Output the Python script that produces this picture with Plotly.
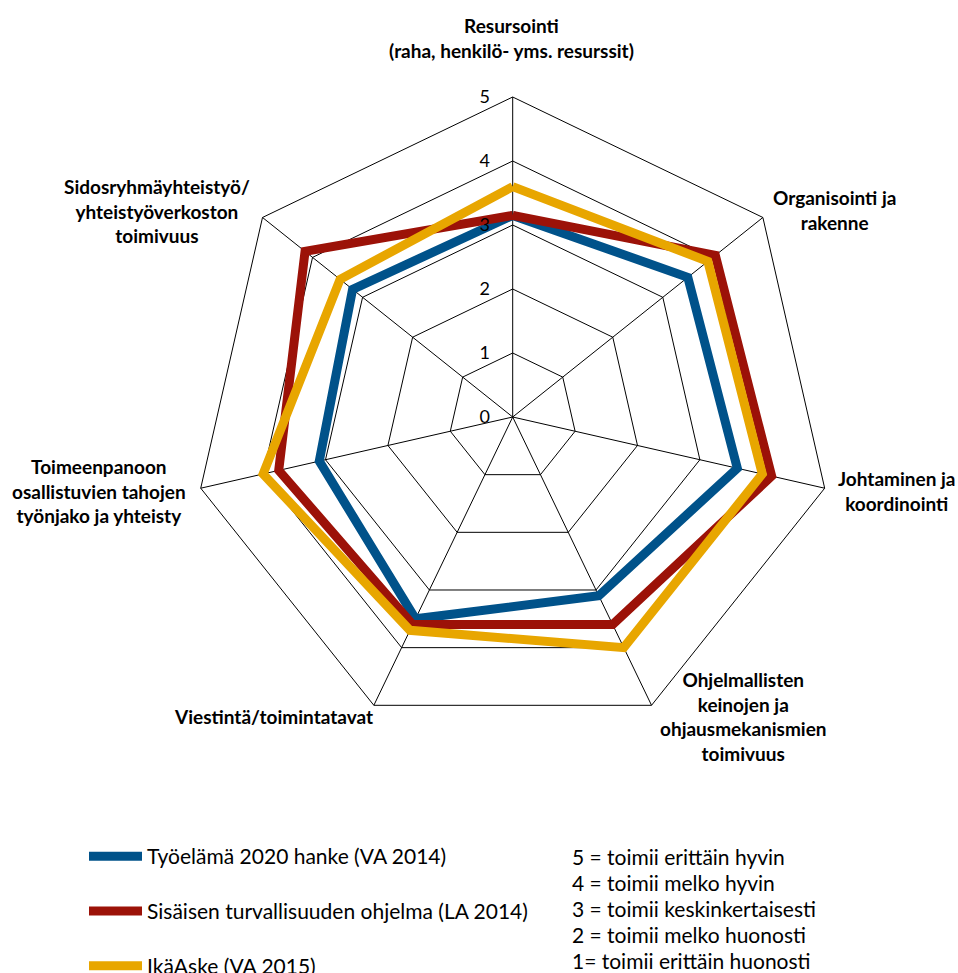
import plotly.graph_objects as go

categories = [
    "Resursointi",
    "Organisointi ja rakenne",
    "Johtaminen ja koordinointi",
    "Ohjelmallisten keinojen ja ohjausmekanismien toimivuus",
    "Viestintä/toimintatavat",
    "Toimeenpanoon osallistuvien tahojen työnjako ja yhteisty",
    "Sidosryhmäyhteistyö/yhteistyöverkoston toimivuus",
]
category_labels = [
    "Resursointi<br>(raha, henkilö- yms. resurssit)",
    "Organisointi ja<br>rakenne",
    "Johtaminen ja<br>koordinointi",
    "Ohjelmallisten<br>keinojen ja<br>ohjausmekanismien<br>toimivuus",
    "Viestintä/toimintatavat",
    "Toimeenpanoon<br>osallistuvien tahojen<br>työnjako ja yhteisty",
    "Sidosryhmäyhteistyö/<br>yhteistyöverkoston<br>toimivuus",
]
series_names = [
    "Työelämä 2020 hanke (VA 2014)",
    "Sisäisen turvallisuuden ohjelma (LA 2014)",
    "IkäAske (VA 2015)",
]
tyoelama = [3.15, 3.5, 3.6, 3.1, 3.5, 3.1, 3.2]
sisainen = [3.15, 4.05, 4.15, 3.6, 3.6, 3.75, 4.15]
ikaaske = [3.6, 3.9, 4.0, 4.0, 3.7, 4.0, 3.45]
scale_text = [
    "5 = toimii erittäin hyvin",
    "4 = toimii melko hyvin",
    "3 = toimii keskinkertaisesti",
    "2 = toimii melko huonosti",
    "1= toimii erittäin huonosti",
]
radial_ticks = [0, 1, 2, 3, 4, 5]

colors = ["#00528A", "#9C1208", "#E8A600"]
series = [tyoelama, sisainen, ikaaske]

fig = go.Figure()
for i, (name, vals) in enumerate(zip(series_names, series)):
    fig.add_trace(go.Scatterpolar(
        r=vals + [vals[0]],
        theta=categories + [categories[0]],
        mode="lines",
        name=name,
        legendgroup=str(i),
        line=dict(color=colors[i], width=9),
        hoverinfo="skip",
    ))

W, H = 958, 973
cx, cy, R = 512.7, 417, 320

fig.update_layout(
    width=W, height=H,
    margin=dict(l=0, r=0, t=0, b=0, autoexpand=False),
    paper_bgcolor="white",
    plot_bgcolor="white",
    font=dict(family="Lato, sans-serif", color="black"),
    polar=dict(
        domain=dict(x=[(cx - R) / W, (cx + R) / W], y=[1 - (cy + R) / H, 1 - (cy - R) / H]),
        bgcolor="white",
        gridshape="linear",
        angularaxis=dict(
            rotation=90, direction="clockwise",
            showticklabels=False, ticks="",
            showgrid=True, gridcolor="black", gridwidth=1,
            showline=True, linecolor="black", linewidth=1,
            layer="below traces",
        ),
        radialaxis=dict(
            range=[0, 5], tickvals=radial_ticks, ticktext=[str(t) for t in radial_ticks],
            angle=90, side="counterclockwise", tickangle=90,
            showgrid=True, gridcolor="black", gridwidth=1,
            showline=False,
            ticks="outside", ticklen=16, tickcolor="rgba(0,0,0,0)",
            tickfont=dict(size=18, family="Lato, sans-serif", color="black"),
            layer="above traces",
        ),
    ),
    showlegend=True,
    legend=dict(
        x=84 / W, y=1 - 836 / H, xanchor="left", yanchor="top",
        orientation="v", tracegroupgap=24.5, itemwidth=53,
        font=dict(size=21, family="Lato, sans-serif", color="black"),
        bgcolor="rgba(0,0,0,0)",
    ),
)

label_pos = [
    (512, 37.5), (834, 210), (896, 490.5), (743, 716), (273, 716), (98.5, 491), (157, 211),
]
for text, (x, y) in zip(category_labels, label_pos):
    fig.add_annotation(
        x=x / W, y=1 - y / H, xref="paper", yref="paper",
        text=text, showarrow=False, align="center",
        xanchor="center", yanchor="middle",
        font=dict(size=19, family="Lato, sans-serif", color="black", weight="bold"),
    )

for k, t in enumerate(scale_text):
    fig.add_annotation(
        x=570 / W, y=1 - (856 + 26 * k) / H, xref="paper", yref="paper",
        text=t, showarrow=False, xanchor="left", yanchor="middle", align="left",
        font=dict(size=21, family="Lato, sans-serif", color="black"),
    )

fig.write_html("out.html", config={"displayModeBar": False},
               post_script="document.body.style.margin='0';")
